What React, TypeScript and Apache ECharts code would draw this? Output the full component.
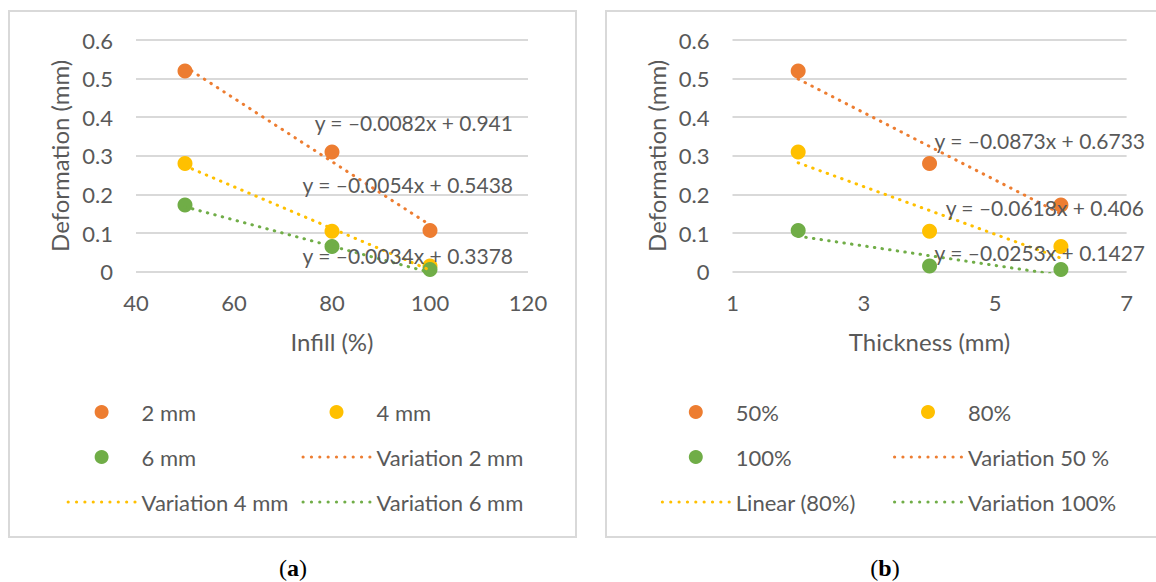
import React, { useEffect, useRef } from "react";
import * as echarts from "echarts";

// ---- Data ----
const infillTicks = [40, 60, 80, 100, 120];
const thicknessTicks = [1, 3, 5, 7];

// Panel (a): deformation vs infill, per thickness
const infill2mm = [[50, 0.52], [80, 0.31], [100, 0.107]];
const infill4mm = [[50, 0.28], [80, 0.105], [100, 0.015]];
const infill6mm = [[50, 0.173], [80, 0.065], [100, 0.006]];
const trend2mm = [[50, 0.531], [100, 0.121]];
const trend4mm = [[50, 0.274], [100, 0.004]];
const trend6mm = [[50, 0.168], [100, -0.002]];
const eqA = ["y = \u20130.0082x + 0.941", "y = \u20130.0054x + 0.5438", "y = \u20130.0034x + 0.3378"];

// Panel (b): deformation vs thickness, per infill
const thick50 = [[2, 0.52], [4, 0.28], [6, 0.173]];
const thick80 = [[2, 0.31], [4, 0.105], [6, 0.065]];
const thick100 = [[2, 0.107], [4, 0.015], [6, 0.006]];
const trend50 = [[2, 0.499], [6, 0.15]];
const trend80 = [[2, 0.282], [6, 0.035]];
const trend100 = [[2, 0.092], [6, -0.009]];
const eqB = ["y = \u20130.0873x + 0.6733", "y = \u20130.0618x + 0.406", "y = \u20130.0253x + 0.1427"];

const ORANGE = "#ED7D31";
const YELLOW = "#FFC000";
const GREEN = "#70AD47";
const TEXT = "#595959";
const GRID = "#D9D9D9";
const FONT = "Lato";
const FS = 22;
const EQ_FS = 21;
const TITLE_FS = 24;

// dotted-line legend icon (row of round dots)
function dotsPath(): string {
  const r = 1.6;
  const n = 9;
  const step = 8.35;
  let d = "path://";
  for (let i = 0; i < n; i++) {
    const cx = r + i * step;
    d += `M${(cx - r).toFixed(2)},${r} a${r},${r} 0 1,0 ${2 * r},0 a${r},${r} 0 1,0 ${-2 * r},0 Z `;
  }
  return d;
}
const DOTS = dotsPath();

function scatter(name: string, data: number[][], color: string, axis: number) {
  return {
    type: "scatter",
    name,
    data,
    xAxisIndex: axis,
    yAxisIndex: axis,
    symbol: "circle",
    symbolSize: 15,
    itemStyle: { color, opacity: 1 },
    z: 2,
  };
}

function trend(name: string, data: number[][], color: string, axis: number) {
  return {
    type: "line",
    name,
    data,
    xAxisIndex: axis,
    yAxisIndex: axis,
    symbol: "none",
    clip: true,
    lineStyle: { color, width: 3, type: [0.5, 7.2], cap: "round" },
    itemStyle: { color },
    z: 3,
  };
}

function yAxis(gridIndex: number, nameGap: number) {
  return {
    type: "value",
    gridIndex,
    min: 0,
    max: 0.6,
    interval: 0.1,
    name: "Deformation (mm)",
    nameLocation: "middle",
    nameGap,
    nameTextStyle: { color: TEXT, fontSize: TITLE_FS, fontFamily: FONT },
    axisLine: { show: false },
    axisTick: { show: false },
    axisLabel: { color: TEXT, fontSize: FS, fontFamily: FONT, margin: 23 },
    splitLine: { show: true, lineStyle: { color: GRID, width: 1.8 } },
  };
}

function xAxis(gridIndex: number, name: string, ticks: number[]) {
  return {
    type: "value",
    gridIndex,
    min: ticks[0],
    max: ticks[ticks.length - 1],
    interval: ticks[1] - ticks[0],
    name,
    nameLocation: "middle",
    nameGap: 58,
    nameTextStyle: { color: TEXT, fontSize: TITLE_FS, fontFamily: FONT },
    axisLine: { show: false },
    axisTick: { show: false },
    axisLabel: { color: TEXT, fontSize: FS, fontFamily: FONT, margin: 20 },
    splitLine: { show: false },
  };
}

type Item = { name: string; line: boolean };

function legend(left: number, items: Item[]) {
  return {
    orient: "vertical",
    left,
    top: 401,
    padding: 0,
    itemWidth: 70,
    itemHeight: 14,
    itemGap: 23,
    symbolKeepAspect: true,
    data: items.map((it) => (it.line ? { name: it.name, icon: DOTS } : { name: it.name, icon: "circle" })),
    textStyle: { color: TEXT, fontSize: FS, fontFamily: FONT, lineHeight: 22 },
    selectedMode: false,
  };
}

function eqText(text: string, x: number, y: number) {
  return {
    type: "text",
    x,
    y,
    z: 10,
    style: {
      text,
      fill: TEXT,
      font: `${EQ_FS}px ${FONT}`,
      align: "right",
      verticalAlign: "middle",
      textAlign: "right",
      textVerticalAlign: "middle",
    },
  };
}

function caption(letter: string, x: number) {
  return {
    type: "text",
    x,
    y: 568,
    style: {
      text: `{p|(}{b|${letter}}{p|)}`,
      align: "center",
      verticalAlign: "middle",
      textAlign: "center",
      textVerticalAlign: "middle",
      rich: {
        p: { fontFamily: "Liberation Serif", fontSize: 24, fill: "#000", color: "#000" },
        b: { fontFamily: "Liberation Serif", fontSize: 24, fontWeight: "bold", fill: "#000", color: "#000" },
      },
    },
  };
}

export default function App() {
  const ref = useRef<HTMLDivElement>(null);
  useEffect(() => {
    if (!ref.current) return;
    const chart = echarts.init(ref.current, undefined, { renderer: "svg" });
    const option = {
      animation: false,
      backgroundColor: "#fff",
      textStyle: { fontFamily: FONT, color: TEXT },
      grid: [
        { left: 136, top: 40, width: 392, height: 231.7, containLabel: false },
        { left: 732.5, top: 40, width: 394.1, height: 231.7, containLabel: false },
      ],
      xAxis: [xAxis(0, "Infill (%)", infillTicks), xAxis(1, "Thickness (mm)", thicknessTicks)],
      yAxis: [yAxis(0, 65), yAxis(1, 64.5)],
      legend: [
        legend(66.6, [
          { name: "2 mm", line: false },
          { name: "6 mm", line: false },
          { name: "Variation 4 mm", line: true },
        ]),
        legend(301.5, [
          { name: "4 mm", line: false },
          { name: "Variation 2 mm", line: true },
          { name: "Variation 6 mm", line: true },
        ]),
        legend(660.8, [
          { name: "50%", line: false },
          { name: "100%", line: false },
          { name: "Linear (80%)", line: true },
        ]),
        legend(893, [
          { name: "80%", line: false },
          { name: "Variation 50 %", line: true },
          { name: "Variation 100%", line: true },
        ]),
      ],
      series: [
        scatter("2 mm", infill2mm, ORANGE, 0),
        scatter("4 mm", infill4mm, YELLOW, 0),
        scatter("6 mm", infill6mm, GREEN, 0),
        trend("Variation 2 mm", trend2mm, ORANGE, 0),
        trend("Variation 4 mm", trend4mm, YELLOW, 0),
        trend("Variation 6 mm", trend6mm, GREEN, 0),
        scatter("50%", thick50, ORANGE, 1),
        scatter("80%", thick80, YELLOW, 1),
        scatter("100%", thick100, GREEN, 1),
        trend("Variation 50 %", trend50, ORANGE, 1),
        trend("Linear (80%)", trend80, YELLOW, 1),
        trend("Variation 100%", trend100, GREEN, 1),
      ],
      graphic: [
        { type: "rect", shape: { x: 9, y: 11, width: 567, height: 526 }, style: { fill: "none", stroke: GRID, lineWidth: 2 }, z: 0 },
        { type: "rect", shape: { x: 606, y: 11, width: 570, height: 526 }, style: { fill: "none", stroke: GRID, lineWidth: 2 }, z: 0 },
        eqText(eqA[0], 513, 122),
        eqText(eqA[1], 513, 184),
        eqText(eqA[2], 513, 255),
        eqText(eqB[0], 1145, 140),
        eqText(eqB[1], 1144, 207),
        eqText(eqB[2], 1145, 252),
        caption("a", 293),
        caption("b", 885),
      ],
    };
    chart.setOption(option as any);
    return () => chart.dispose();
  }, []);
  return (
    <div
      ref={ref}
      style={{ position: "fixed", left: 0, top: 0, width: 1156, height: 582, background: "#fff" }}
    />
  );
}
